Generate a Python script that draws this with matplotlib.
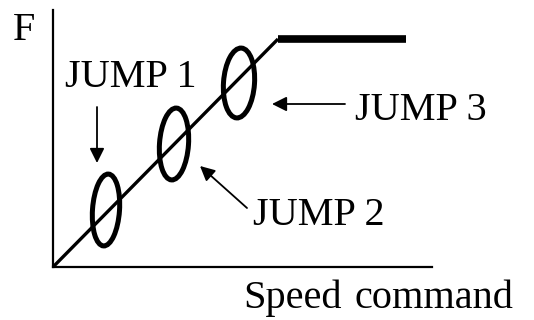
import numpy as np
import matplotlib.pyplot as plt
from matplotlib.patches import Ellipse

# characteristic (arbitrary units, one unit ~ one pixel)
speed = [0, 225, 353]
freq = [0, 228, 228]

# jump frequency bands (centre on the line)
jump_x = [53, 121, 186]
jump_y = [57, 123, 184]
jump_w = [27, 29, 31]
jump_h = [72, 72, 70]

# labels: text position and arrow tip
labels = ["JUMP 1", "JUMP 2", "JUMP 3"]
label_pos = [(12, 180), (200, 42), (302, 147)]
arrow_from = [(44, 160), (194, 59), (292, 163)]
arrow_to = [(44, 104), (147, 101), (219, 163)]

plt.rcParams['font.family'] = ['Liberation Serif', 'DejaVu Serif']

fig = plt.figure(figsize=(5.34, 3.2), dpi=100)
ax = fig.add_axes([53/534, 53/320, 379/534, 257/320])
ax.set_xlim(0, 379)
ax.set_ylim(0, 257)

# rising part thin, flat part thick
ax.plot(speed[:2], freq[:2], color="black", lw=2.4, solid_capstyle="butt", clip_on=False)
ax.plot(speed[1:], freq[1:], color="black", lw=5.5, solid_capstyle="butt", clip_on=False)

for x, y, w, h in zip(jump_x, jump_y, jump_w, jump_h):
    ax.add_patch(Ellipse((x, y), w, h, angle=-4, fill=False, lw=3.6, ec="black", clip_on=False))

for lab, p, a, b in zip(labels, label_pos, arrow_from, arrow_to):
    ax.text(p[0], p[1], lab, fontsize=29, ha="left", va="baseline", clip_on=False)
    ax.annotate("", xy=b, xytext=a,
                arrowprops=dict(arrowstyle="-|>", color="black", lw=1.3,
                                mutation_scale=22, shrinkA=0, shrinkB=0))

ax.text(-40, 227, "F", fontsize=29, ha="left", va="baseline", clip_on=False)
# axis label, wide gap between the two words as in the original
ax.text(190, -41, "Speed", fontsize=29, ha="left", va="baseline", clip_on=False)
ax.text(301, -41, "command", fontsize=29, ha="left", va="baseline", clip_on=False)

for s in ["top", "right"]:
    ax.spines[s].set_visible(False)
for s in ["left", "bottom"]:
    ax.spines[s].set_linewidth(1.6)
ax.set_xticks([])
ax.set_yticks([])

fig.savefig("out.png", dpi=100)
